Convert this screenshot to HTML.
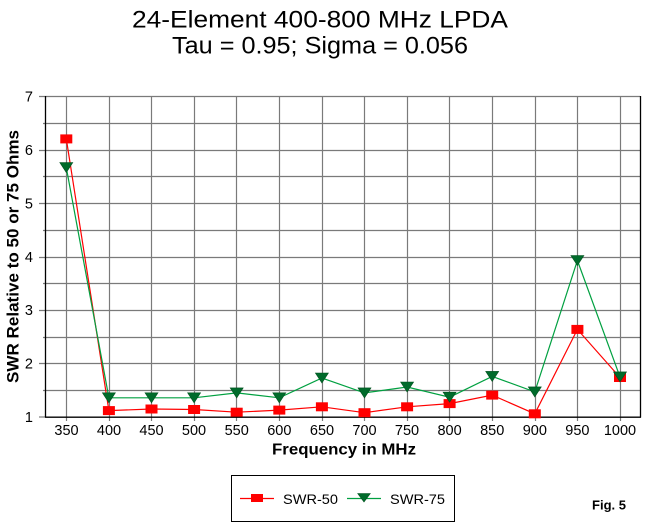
<!DOCTYPE html>
<html><head><meta charset="utf-8"><style>
html,body{margin:0;padding:0;background:#fff;}
svg{display:block;}
text{font-family:"Liberation Sans",Arial,sans-serif;}
</style></head><body>
<svg width="647" height="526" viewBox="0 0 647 526" xmlns="http://www.w3.org/2000/svg">
<rect width="647" height="526" fill="#fff"/>
<!-- Title -->
<text x="320" y="27.5" font-size="24" text-anchor="middle" textLength="376" lengthAdjust="spacingAndGlyphs">24-Element 400-800 MHz LPDA</text>
<text x="320" y="53.5" font-size="24" text-anchor="middle" textLength="296" lengthAdjust="spacingAndGlyphs">Tau = 0.95; Sigma = 0.056</text>

<!-- horizontal gridlines -->
<g stroke="#7a7a7a" stroke-width="1.2">
<line x1="39" y1="96.5" x2="640" y2="96.5"/>
<line x1="43" y1="123.5" x2="640" y2="123.5"/>
<line x1="39" y1="150.5" x2="640" y2="150.5"/>
<line x1="43" y1="176.5" x2="640" y2="176.5"/>
<line x1="39" y1="203.5" x2="640" y2="203.5"/>
<line x1="43" y1="230.5" x2="640" y2="230.5"/>
<line x1="39" y1="257.5" x2="640" y2="257.5"/>
<line x1="43" y1="283.5" x2="640" y2="283.5"/>
<line x1="39" y1="310.5" x2="640" y2="310.5"/>
<line x1="43" y1="337.5" x2="640" y2="337.5"/>
<line x1="39" y1="363.5" x2="640" y2="363.5"/>
<line x1="43" y1="390.5" x2="640" y2="390.5"/>
<line x1="39" y1="417" x2="45" y2="417"/>
</g>
<!-- vertical gridlines -->
<g stroke="#7a7a7a" stroke-width="1.2">
<line x1="66.5" y1="96" x2="66.5" y2="421"/>
<line x1="109.5" y1="96" x2="109.5" y2="421"/>
<line x1="151.5" y1="96" x2="151.5" y2="421"/>
<line x1="194.5" y1="96" x2="194.5" y2="421"/>
<line x1="236.5" y1="96" x2="236.5" y2="421"/>
<line x1="279.5" y1="96" x2="279.5" y2="421"/>
<line x1="322.5" y1="96" x2="322.5" y2="421"/>
<line x1="364.5" y1="96" x2="364.5" y2="421"/>
<line x1="407.5" y1="96" x2="407.5" y2="421"/>
<line x1="449.5" y1="96" x2="449.5" y2="421"/>
<line x1="492.5" y1="96" x2="492.5" y2="421"/>
<line x1="535.5" y1="96" x2="535.5" y2="421"/>
<line x1="577.5" y1="96" x2="577.5" y2="421"/>
<line x1="620.5" y1="96" x2="620.5" y2="421"/>
</g>
<!-- axes -->
<g stroke="#000" stroke-width="1.3">
<line x1="45.5" y1="96" x2="45.5" y2="417.5"/>
<line x1="640.5" y1="96" x2="640.5" y2="417.5"/>
<line x1="45" y1="417.2" x2="641" y2="417.2"/>
</g>

<!-- y tick labels -->
<g font-size="14.5" text-anchor="end">
<text x="33" y="101.5">7</text>
<text x="33" y="155">6</text>
<text x="33" y="208.5">5</text>
<text x="33" y="262">4</text>
<text x="33" y="315">3</text>
<text x="33" y="368.5">2</text>
<text x="33" y="422">1</text>
</g>
<!-- x tick labels -->
<g font-size="14.5" text-anchor="middle">
<text x="66.5" y="435">350</text>
<text x="109" y="435">400</text>
<text x="151.5" y="435">450</text>
<text x="194" y="435">500</text>
<text x="236.7" y="435">550</text>
<text x="279.3" y="435">600</text>
<text x="322" y="435">650</text>
<text x="364.5" y="435">700</text>
<text x="407" y="435">750</text>
<text x="449.6" y="435">800</text>
<text x="492.2" y="435">850</text>
<text x="534.8" y="435">900</text>
<text x="577.4" y="435">950</text>
<text x="620" y="435">1000</text>
</g>

<!-- axis labels -->
<text x="344" y="454.5" font-size="16" font-weight="bold" text-anchor="middle" textLength="144" lengthAdjust="spacingAndGlyphs">Frequency in MHz</text>
<text transform="translate(18.5,256.5) rotate(-90)" font-size="17" font-weight="bold" text-anchor="middle" textLength="253" lengthAdjust="spacingAndGlyphs">SWR Relative to 50 or 75 Ohms</text>

<!-- SWR-50 -->
<polyline fill="none" stroke="#ff0000" stroke-width="1.2" points="66.3,138.9 108.9,410.6 151.5,409.0 194.1,409.5 236.7,412.2 279.3,410.1 321.9,406.8 364.5,412.7 407.1,406.8 449.6,403.6 492.2,395.1 534.8,413.8 577.4,329.4 620,377.5"/>
<g fill="#ff0000">
<rect x="60.3" y="134.4" width="12" height="9"/>
<rect x="102.9" y="406.1" width="12" height="9"/>
<rect x="145.5" y="404.5" width="12" height="9"/>
<rect x="188.1" y="405.0" width="12" height="9"/>
<rect x="230.7" y="407.7" width="12" height="9"/>
<rect x="273.3" y="405.6" width="12" height="9"/>
<rect x="315.9" y="402.3" width="12" height="9"/>
<rect x="358.5" y="408.2" width="12" height="9"/>
<rect x="401.1" y="402.3" width="12" height="9"/>
<rect x="443.6" y="399.1" width="12" height="9"/>
<rect x="486.2" y="390.6" width="12" height="9"/>
<rect x="528.8" y="409.3" width="12" height="9"/>
<rect x="571.4" y="324.9" width="12" height="9"/>
<rect x="614" y="373.0" width="12" height="9"/>
</g>

<!-- SWR-75 -->
<polyline fill="none" stroke="#00a040" stroke-width="1.2" points="66.3,167.6 108.9,397.8 151.5,397.8 194.1,397.8 236.7,392.9 279.3,397.8 321.9,378.0 364.5,392.9 407.1,387.0 449.6,397.2 492.2,376.4 534.8,391.9 577.4,260.5 620,376.9"/>
<g fill="#006b2b" stroke="#00501e" stroke-width="0.6">
<polygon points="59.8,162.6 72.8,162.6 66.3,172.6"/>
<polygon points="102.4,392.8 115.4,392.8 108.9,402.8"/>
<polygon points="145,392.8 158,392.8 151.5,402.8"/>
<polygon points="187.6,392.8 200.6,392.8 194.1,402.8"/>
<polygon points="230.2,387.9 243.2,387.9 236.7,397.9"/>
<polygon points="272.8,392.8 285.8,392.8 279.3,402.8"/>
<polygon points="315.4,373 328.4,373 321.9,383"/>
<polygon points="358,387.9 371,387.9 364.5,397.9"/>
<polygon points="400.6,382 413.6,382 407.1,392"/>
<polygon points="443.1,392.2 456.1,392.2 449.6,402.2"/>
<polygon points="485.7,371.4 498.7,371.4 492.2,381.4"/>
<polygon points="528.3,386.9 541.3,386.9 534.8,396.9"/>
<polygon points="570.9,255.5 583.9,255.5 577.4,265.5"/>
<polygon points="613.5,371.9 626.5,371.9 620,381.9"/>
</g>

<!-- Legend -->
<rect x="231.5" y="475.5" width="223" height="46" fill="#fff" stroke="#000" stroke-width="1"/>
<line x1="240" y1="498.5" x2="274" y2="498.5" stroke="#ff0000" stroke-width="1.2"/>
<rect x="251" y="494" width="12" height="8" fill="#ff0000"/>
<text x="283" y="504" font-size="14" textLength="55" lengthAdjust="spacingAndGlyphs">SWR-50</text>
<line x1="347" y1="498.5" x2="381" y2="498.5" stroke="#00a040" stroke-width="1.2"/>
<polygon points="357.7,493.5 370.3,493.5 364,502" fill="#006b2b" stroke="#00501e" stroke-width="0.6"/>
<text x="390" y="504" font-size="14" textLength="55" lengthAdjust="spacingAndGlyphs">SWR-75</text>

<text x="592" y="509.5" font-size="13" font-weight="bold" textLength="34" lengthAdjust="spacingAndGlyphs">Fig. 5</text>
</svg>
</body></html>
